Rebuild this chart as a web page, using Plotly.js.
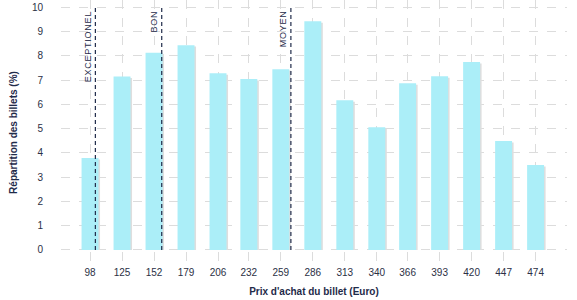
<!DOCTYPE html>
<html>
<head>
<meta charset="utf-8">
<script src="https://cdn.plot.ly/plotly-3.0.1.min.js"></script>
<style>html,body{margin:0;padding:0;background:#fff;}#chart{width:577px;height:300px;}</style>
</head>
<body>
<div id="chart"></div>
<script>
// Data
const prices = [98, 125, 152, 179, 206, 232, 259, 286, 313, 340, 366, 393, 420, 447, 474];
const shares = [3.79, 7.15, 8.13, 8.44, 7.28, 7.04, 7.45, 9.42, 6.17, 5.06, 6.87, 7.16, 7.74, 4.49, 3.50];
const thresholdLabels = ["EXCEPTIONEL", "BON", "MOYEN"];
const thresholdPrices = [102.5, 158.5, 267.5];

const barWidth = 14.3;
const shadowShift = 1.3;
const navy = '#1f2b4a';

const shadow = {
  type: 'bar', x: prices, y: shares.map(v => v - 0.06),
  width: prices.map(() => barWidth), offset: prices.map(() => -barWidth / 2 + shadowShift),
  marker: {color: '#dedede', line: {width: 0}}, hoverinfo: 'skip', showlegend: false
};
const bars = {
  type: 'bar', x: prices, y: shares,
  width: prices.map(() => barWidth), offset: prices.map(() => -barWidth / 2),
  marker: {color: '#abeef8', line: {width: 0}}, showlegend: false
};

const shapes = thresholdPrices.map(p => ({
  type: 'line', xref: 'x', yref: 'y', x0: p, x1: p, y0: 0, y1: 10,
  line: {color: navy, width: 1.2, dash: '4px,3px'}
}));
const annotations = thresholdLabels.map((t, i) => ({
  x: thresholdPrices[i], y: 10, xref: 'x', yref: 'y', text: t.split('').join('\u200A'), textangle: -90,
  showarrow: false, xanchor: 'right', yanchor: 'top', xshift: -1, yshift: -2,
  font: {family: 'Liberation Sans, Arial, sans-serif', size: 9, color: navy}
}));

const layout = {
  width: 577, height: 300,
  margin: {l: 61, r: 10, t: 0, b: 35},
  paper_bgcolor: '#fff', plot_bgcolor: '#fff',
  barmode: 'overlay',
  font: {family: 'Liberation Sans, Arial, sans-serif', size: 10, color: '#2b3045'},
  xaxis: {
    range: [73.5, 500.5], tickmode: 'array', tickvals: prices, ticktext: prices.map(String),
    showgrid: true, gridcolor: '#dcdcdc', griddash: 'dash', gridwidth: 1,
    zeroline: false, showline: false, ticks: '',
    tickfont: {size: 10, color: '#2b3045'},
    title: {text: "Prix d'achat du billet (Euro)", font: {size: 10, color: navy, weight: 'bold'}, standoff: 10}
  },
  yaxis: {
    range: [-0.62, 10.3], tickmode: 'array', tickvals: [0,1,2,3,4,5,6,7,8,9,10],
    showgrid: true, gridcolor: '#dcdcdc', griddash: 'dash', gridwidth: 1,
    zeroline: false, showline: false, ticks: '', ticklabelstandoff: 17,
    tickfont: {size: 10, color: '#2b3045'},
    title: {text: 'Répartition des billets (%)', font: {size: 10, color: navy, weight: 'bold'}, standoff: 12}
  },
  shapes: shapes,
  annotations: annotations
};

Plotly.newPlot('chart', [shadow, bars], layout, {displayModeBar: false, staticPlot: true});
</script>
</body>
</html>
